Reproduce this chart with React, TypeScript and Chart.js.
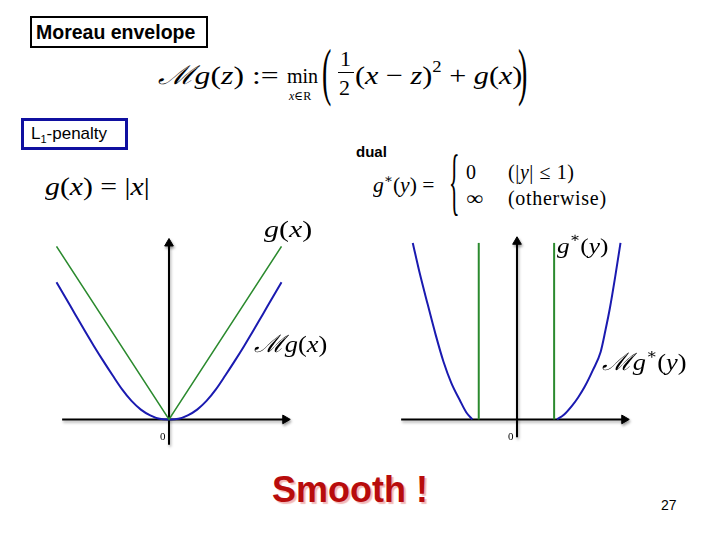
import React, { useEffect, useRef } from "react";
import { Chart, registerables } from "chart.js";

Chart.register(...registerables);

// ---------- data ----------
// Left panel: g(x) = |x| and its Moreau envelope
const envX = [-3, -2.75, -2.5, -2.25, -2, -1.75, -1.5, -1.25, -1, -0.75, -0.5, -0.25, 0, 0.25, 0.5, 0.75, 1, 1.25, 1.5, 1.75, 2, 2.25, 2.5, 2.75, 3];
const envY = [2.38, 2.1, 1.82, 1.54, 1.27, 1.01, 0.76, 0.52, 0.32, 0.17, 0.07, 0.01, 0, 0.01, 0.07, 0.17, 0.32, 0.52, 0.76, 1.01, 1.27, 1.54, 1.82, 2.1, 2.38];
const absX = [-3, 0, 3];
const absY = [3, 0, 3];

// Right panel: dual indicator g*(y) and its Moreau envelope
const dualEnvLeftX = [-2.78, -2.6, -2.38, -2.17, -1.96, -1.75, -1.53, -1.35, -1.19];
const dualEnvLeftY = [3.06, 2.55, 1.99, 1.47, 1.0, 0.63, 0.34, 0.12, 0];
const dualEnvRightX = [1.07, 1.25, 1.46, 1.63, 1.8, 2.02, 2.23, 2.36, 2.48, 2.62, 2.76];
const dualEnvRightY = [0, 0.08, 0.23, 0.38, 0.56, 0.85, 1.17, 1.55, 1.94, 2.48, 3.06];
const indicatorLeftX = [-1.02, -1.02];
const indicatorRightX = [0.99, 0.99];
const indicatorY = [0, 3.06];

// axes extents
const leftAxisX = [-2.85, 3.1];
const leftAxisY = [-0.44, 3.05];
const rightAxisX = [-3.09, 2.86];
const rightAxisY = [-0.31, 3.08];

const tickZero = "0";

const GREEN = "#2b8a2e";
const BLUE = "#1a1ab0";

const serif = '"Liberation Serif", "DejaVu Serif", serif';
const sans = '"Liberation Sans", Arial, sans-serif';

function pts(xs: number[], ys: number[]) {
  return xs.map((x, i) => ({ x, y: ys[i] }));
}

function curve(xs: number[], ys: number[], color: string, width: number, smooth: boolean) {
  return {
    label: "curve",
    data: pts(xs, ys),
    showLine: true,
    borderColor: color,
    borderWidth: width,
    pointRadius: 0,
    tension: smooth ? 0.3 : 0,
    cubicInterpolationMode: smooth ? "monotone" : "default",
    order: 1,
  };
}

function axis(xs: number[], ys: number[], rot: number) {
  return {
    label: "axis",
    data: pts(xs, ys),
    showLine: true,
    borderColor: "#000",
    borderWidth: 2,
    tension: 0,
    pointRadius: [0, 5],
    pointStyle: "triangle",
    pointRotation: [0, rot],
    pointBackgroundColor: "#000",
    pointBorderColor: "#000",
    pointBorderWidth: 1,
    order: 2,
  };
}

const shadowPlugin = {
  id: "axisShadow",
  beforeDatasetDraw(chart: any, args: any) {
    const ds = chart.data.datasets[args.index];
    if (ds.label === "axis") {
      const ctx = chart.ctx;
      ctx.shadowColor = "rgba(0,0,0,0.35)";
      ctx.shadowBlur = 3;
      ctx.shadowOffsetX = 1;
      ctx.shadowOffsetY = 2;
    }
  },
  afterDatasetDraw(chart: any) {
    const ctx = chart.ctx;
    ctx.shadowColor = "rgba(0,0,0,0)";
    ctx.shadowBlur = 0;
    ctx.shadowOffsetX = 0;
    ctx.shadowOffsetY = 0;
  },
};

function Plot(props: {
  left: number;
  top: number;
  width: number;
  height: number;
  datasets: any[];
  xMin: number;
  xMax: number;
  yMin: number;
  yMax: number;
}) {
  const ref = useRef<HTMLCanvasElement | null>(null);
  useEffect(() => {
    const chart = new Chart(ref.current as HTMLCanvasElement, {
      type: "scatter",
      data: { datasets: props.datasets },
      options: {
        animation: false,
        responsive: false,
        maintainAspectRatio: false,
        events: [],
        layout: { padding: 0 },
        plugins: { legend: { display: false }, tooltip: { enabled: false } },
        scales: {
          x: { type: "linear", min: props.xMin, max: props.xMax, display: false },
          y: { type: "linear", min: props.yMin, max: props.yMax, display: false },
        },
      } as any,
      plugins: [shadowPlugin],
    });
    return () => chart.destroy();
  }, []);
  return (
    <canvas
      ref={ref}
      width={props.width}
      height={props.height}
      style={{ position: "absolute", left: props.left, top: props.top, width: props.width, height: props.height }}
    />
  );
}

// text placed by baseline
function T(props: {
  x: number;
  b: number;
  s: number;
  sx?: number;
  sy?: number;
  font?: string;
  bold?: boolean;
  color?: string;
  ls?: number;
  shadow?: string;
  children: any;
}) {
  const font = props.font || serif;
  const asc = font === sans ? 0.847 : 0.837;
  const sx = props.sx || 1;
  const sy = props.sy || 1;
  return (
    <div
      style={{
        position: "absolute",
        left: props.x,
        top: props.b - asc * props.s,
        fontFamily: font,
        fontSize: props.s,
        lineHeight: 1,
        fontWeight: props.bold ? "bold" : "normal",
        color: props.color || "#000",
        whiteSpace: "nowrap",
        letterSpacing: props.ls || 0,
        transform: `scale(${sx}, ${sy})`,
        transformOrigin: `0px ${asc * props.s - 0.25 * props.s}px`,
        textShadow: props.shadow,
      }}
    >
      {props.children}
    </div>
  );
}

const I = (p: { children: any }) => <i>{p.children}</i>;
const Sup = (p: { children: any }) => (
  <span style={{ fontSize: "0.62em", position: "relative", top: "-0.75em" }}>{p.children}</span>
);

export default function App() {
  const leftSets = [
    curve(absX, absY, GREEN, 1.6, false),
    curve(envX, envY, BLUE, 2, true),
    axis(leftAxisX, [0, 0], 90),
    axis([0, 0], leftAxisY, 0),
  ];
  const rightSets = [
    curve(dualEnvLeftX, dualEnvLeftY, BLUE, 2, true),
    curve(dualEnvRightX, dualEnvRightY, BLUE, 2, true),
    curve(indicatorLeftX, indicatorY, GREEN, 2, false),
    curve(indicatorRightX, indicatorY, GREEN, 2, false),
    axis(rightAxisX, [0, 0], 90),
    axis([0, 0], rightAxisY, 0),
  ];

  return (
    <div style={{ position: "absolute", left: 0, top: 0, width: 720, height: 540, background: "#fff", overflow: "hidden" }}>
      {/* title box */}
      <div
        style={{
          position: "absolute",
          left: 30,
          top: 16,
          width: 178,
          height: 32,
          boxSizing: "border-box",
          border: "2px solid #000",
          fontFamily: sans,
          fontWeight: "bold",
          fontSize: 19.5,
          lineHeight: "28px",
          paddingLeft: 4,
          whiteSpace: "nowrap",
        }}
      >
        Moreau envelope
      </div>

      {/* main formula */}
      <T x={158} b={85} s={26} sx={1.22}>
        <I>ℳg</I>(<I>z</I>) :=
      </T>
      <T x={287} b={83} s={20} sx={1.0}>min</T>
      <T x={289} b={100} s={12}>
        <I>x</I>∈R
      </T>
      <T x={322} b={84} s={28} sy={2.3}>(</T>
      <T x={340} b={66} s={22}>1</T>
      <div style={{ position: "absolute", left: 338, top: 72, width: 16, height: 1, background: "#000" }} />
      <T x={339} b={95} s={22}>2</T>
      <T x={355} b={85} s={26} sx={1.16}>
        (<I>x</I> − <I>z</I>)<Sup>2</Sup> + <I>g</I>(<I>x</I>)
      </T>
      <T x={518} b={84} s={28} sy={2.3}>)</T>

      {/* L1-penalty box */}
      <div
        style={{
          position: "absolute",
          left: 21,
          top: 118,
          width: 107,
          height: 32,
          boxSizing: "border-box",
          border: "3px solid #1010a0",
          fontFamily: sans,
          fontSize: 17,
          lineHeight: "26px",
          paddingLeft: 7,
          whiteSpace: "nowrap",
        }}
      >
        L<span style={{ fontSize: 11, position: "relative", top: 4 }}>1</span>-penalty
      </div>

      <T x={45} b={195} s={25} sx={1.19}>
        <I>g</I>(<I>x</I>) = |<I>x</I>|
      </T>

      <T x={356} b={157} s={15} font={sans} bold>dual</T>

      {/* dual formula */}
      <T x={373} b={192} s={20} sx={1.08}>
        <I>g</I>
        <Sup>∗</Sup>(<I>y</I>) =
      </T>
      <div
        style={{
          position: "absolute",
          left: 449,
          top: 172,
          fontFamily: serif,
          fontSize: 22,
          lineHeight: "22px",
          transform: "scaleY(3.35)",
          transformOrigin: "0px 11px",
          color: "#000",
        }}
      >
        {"{"}
      </div>
      <T x={466} b={179} s={20}>0</T>
      <T x={508} b={179} s={20} ls={0.6}>
        (|<I>y</I>| ≤ 1)
      </T>
      <T x={466} b={205} s={20} sx={1.2}>∞</T>
      <T x={508} b={205} s={20} ls={0.7}>(otherwise)</T>

      {/* plots */}
      <Plot left={13} top={200} width={312} height={260} datasets={leftSets} xMin={-4} xMax={4} yMin={-0.6} yMax={3.7} />
      <Plot left={361} top={200} width={312} height={260} datasets={rightSets} xMin={-4} xMax={4} yMin={-0.6} yMax={3.7} />

      {/* curve labels */}
      <T x={264} b={237} s={23} sx={1.3}>
        <I>g</I>(<I>x</I>)
      </T>
      <T x={254} b={352} s={24} sx={1.1}>
        <I>ℳg</I>(<I>x</I>)
      </T>
      <T x={557} b={253} s={22} sx={1.15}>
        <I>g</I>
        <Sup>∗</Sup>(<I>y</I>)
      </T>
      <T x={602} b={370} s={24} sx={1.1}>
        <I>ℳg</I>
        <Sup>∗</Sup>(<I>y</I>)
      </T>

      <T x={160} b={440} s={11}>{tickZero}</T>
      <T x={508} b={440} s={11}>{tickZero}</T>

      <T x={272} b={502} s={36} font={sans} bold color="#b80c0c" shadow="2px 2px 1px #f2b8b8">
        Smooth !
      </T>
      <T x={661} b={510} s={14} font={sans}>27</T>
    </div>
  );
}
